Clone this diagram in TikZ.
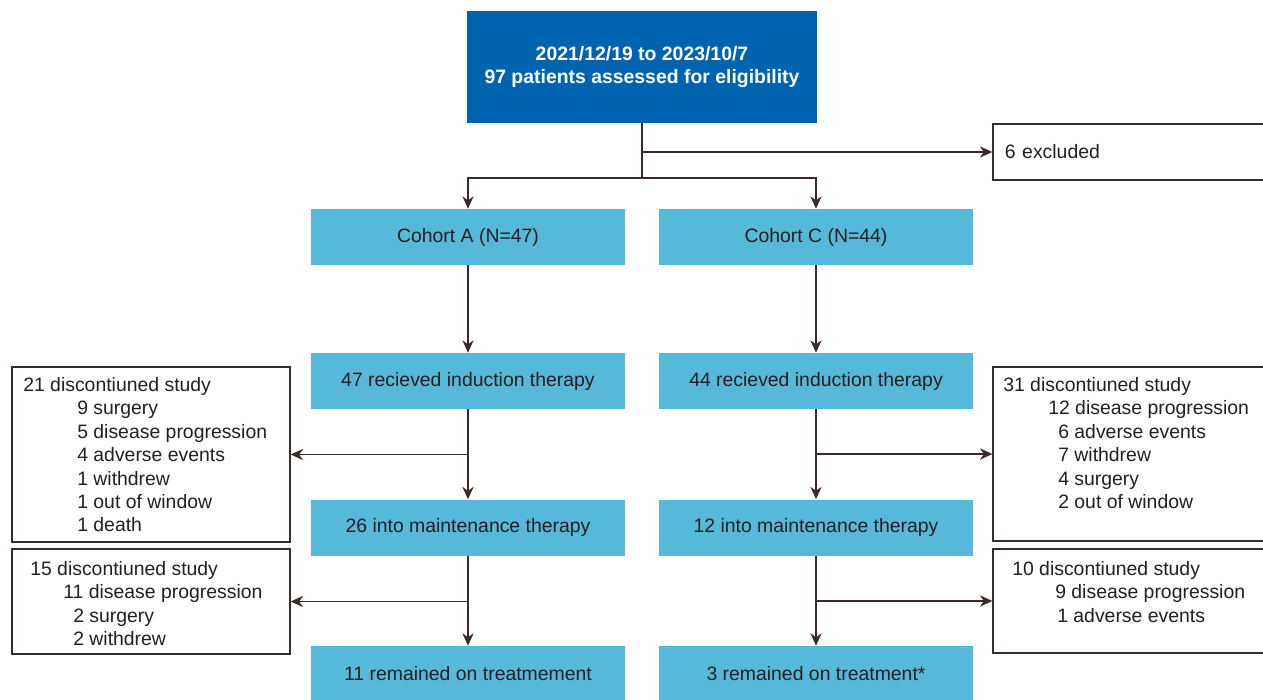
\documentclass[tikz,border=0pt]{standalone}
\usepackage{fontspec}
\setmainfont{Liberation Sans}
\usetikzlibrary{arrows.meta}
\definecolor{topblue}{RGB}{0,99,175}
\definecolor{cellblue}{RGB}{86,185,218}
\definecolor{linebrown}{RGB}{58,42,40}
\definecolor{inkdark}{RGB}{35,31,32}
\newlength\pxunit
\setlength\pxunit{0.025cm}
\newcommand{\shiftin}[1]{\hspace*{#1\pxunit}}
\tikzset{
  topbox/.style={fill=topblue, text=white, font=\fontsize{13.8}{16.3}\selectfont\bfseries,
    minimum width=8.75cm, minimum height=2.8cm, align=center, inner sep=0pt},
  cellbox/.style={fill=cellblue, text=inkdark, font=\fontsize{13.8}{16}\selectfont,
    minimum width=7.85cm, minimum height=1.4cm, inner sep=0pt},
  sidebox/.style={draw=linebrown, line width=0.9pt, minimum width=6.95cm, inner sep=0pt},
  listtext/.style={text=inkdark, font=\fontsize{13.8}{16.65}\selectfont, align=left,
    inner sep=0pt, anchor=north west},
  flow/.style={draw=linebrown, line width=1pt},
  flowarrow/.style={flow, -{Stealth[length=0.31cm, width=0.28cm]}},
}

\begin{document}
\begin{tikzpicture}[x=0.025cm, y=-0.025cm]
			%%%%% START %%%%%
			\useasboundingbox (0, 0) rectangle (1263, 699);
			
			\node[topbox] (screen) at (642, 67) {2021/12/19 to 2023/10/7\\97 patients assessed for eligibility};
			\node[sidebox, minimum width=6.925cm, minimum height=1.4cm, text width=6.325cm,
			      inner xsep=0.3cm, align=left, text=inkdark, font=\fontsize{13.8}{16}\selectfont]
			      (excl) at (1131.5, 152) {6 excluded};
			
			% cohorts
			\node[cellbox] (coA) at (468, 237) {Cohort A (N=47)};
			\node[cellbox] (coC) at (816, 237) {Cohort C (N=44)};
			
			\node[cellbox] (indA) at (468, 381) {47 recieved induction therapy};
			\node[cellbox] (indC) at (816, 381) {44 recieved induction therapy};
			
			\node[cellbox] (mainA) at (468, 527.5) {26 into maintenance therapy};
			\node[cellbox] (mainC) at (816, 527.5) {12 into maintenance therapy};
			
			\node[cellbox] (remA) at (468, 674) {11 remained on treatmement};
			\node[cellbox] (remC) at (816, 674) {3 remained on treatment*};
			
			% discontinued boxes
			\node[sidebox, minimum height=4.375cm] (offA1) at (151, 454.5) {};
			\node[listtext] at (23, 377) {21 discontiuned study\\
				\shiftin{54}9 surgery\\
				\shiftin{54}5 disease progression\\
				\shiftin{54}4 adverse events\\
				\shiftin{54}1 withdrew\\
				\shiftin{54}1 out of window\\
				\shiftin{54}1 death};
			
			\node[sidebox, minimum height=2.625cm] (offA2) at (151, 601.5) {};
			\node[listtext] at (30, 561) {15 discontiuned study\\
				\shiftin{33}11 disease progression\\
				\shiftin{43}2 surgery\\
				\shiftin{43}2 withdrew};
			
			\node[sidebox, minimum width=6.925cm, minimum height=4.35cm] (offC1) at (1131.5, 454) {};
			\node[listtext] at (1003, 377) {31 discontiuned study\\
				\shiftin{45}12 disease progression\\
				\shiftin{55}6 adverse events\\
				\shiftin{55}7 withdrew\\
				\shiftin{55}4 surgery\\
				\shiftin{55}2 out of window};
			
			\node[sidebox, minimum width=6.925cm, minimum height=2.6cm] (offC2) at (1131.5, 601) {};
			\node[listtext] at (1012, 561) {10 discontiuned study\\
				\shiftin{43}9 disease progression\\
				\shiftin{45}1 adverse events};
			
			% connectors
			\coordinate (fork) at (642, 178);
			\draw[flow] (screen.south) -- (fork);
			\draw[flowarrow] (screen.south |- excl.west) -- (excl.west);
			\draw[flowarrow] (fork) -| (coA.north);
			\draw[flowarrow] (fork) -| (coC.north);
			
			\draw[flowarrow] (coA) -- (indA);
			\draw[flowarrow] (coC) -- (indC);
			\draw[flowarrow] (indA) -- (mainA);
			\draw[flowarrow] (indC) -- (mainC);
			\draw[flowarrow] (mainA) -- (remA);
			\draw[flowarrow] (mainC) -- (remC);
			
			\draw[flowarrow] (indA.south |- offA1.east) -- (offA1.east);
			\draw[flowarrow] (mainA.south |- offA2.east) -- (offA2.east);
			\draw[flowarrow] (indC.south |- offC1.west) -- (offC1.west);
			\draw[flowarrow] (mainC.south |- offC2.west) -- (offC2.west);
			
			%%%%% END %%%%%
\end{tikzpicture}
\end{document}
